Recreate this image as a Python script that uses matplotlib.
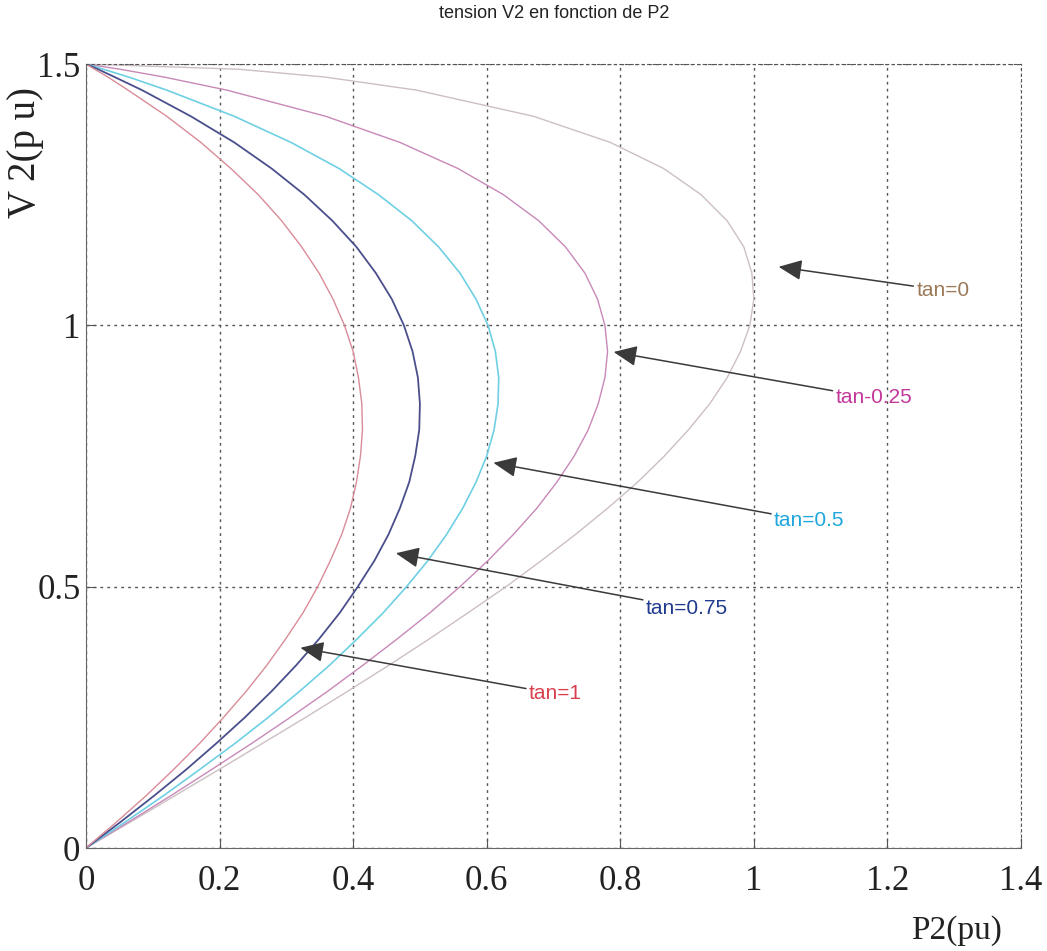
import matplotlib.pyplot as plt

# tension V2 (pu), commune a toutes les courbes
v2 = [0, 0.05, 0.1, 0.15, 0.2, 0.25, 0.3, 0.35, 0.4, 0.45, 0.5, 0.55, 0.6, 0.65,
      0.7, 0.75, 0.8, 0.85, 0.9, 0.95, 1.0, 1.05, 1.1, 1.15, 1.2, 1.25, 1.3,
      1.35, 1.4, 1.45, 1.475, 1.49, 1.5]

# puissance P2 (pu) pour chaque tan(phi)
p_tan0 = [0, 0.067, 0.133, 0.199, 0.264, 0.329, 0.392, 0.454, 0.514, 0.572, 0.629,
          0.682, 0.733, 0.781, 0.826, 0.866, 0.902, 0.934, 0.960, 0.980, 0.994,
          1.000, 0.997, 0.985, 0.960, 0.921, 0.865, 0.785, 0.670, 0.495, 0.358,
          0.229, 0]
p_tan025 = [0, 0.064, 0.127, 0.188, 0.248, 0.306, 0.362, 0.415, 0.466, 0.515, 0.560,
            0.602, 0.640, 0.675, 0.705, 0.731, 0.752, 0.767, 0.777, 0.781, 0.777,
            0.766, 0.747, 0.718, 0.678, 0.625, 0.557, 0.470, 0.359, 0.211, 0.117,
            0.051, 0]
p_tan05 = [0, 0.059, 0.116, 0.170, 0.223, 0.273, 0.320, 0.365, 0.406, 0.445, 0.480,
           0.512, 0.540, 0.564, 0.584, 0.600, 0.611, 0.617, 0.618, 0.613, 0.602,
           0.584, 0.560, 0.528, 0.488, 0.438, 0.379, 0.307, 0.222, 0.121, 0.064,
           0.026, 0]
p_tan075 = [0, 0.052, 0.102, 0.150, 0.195, 0.238, 0.278, 0.315, 0.349, 0.380, 0.407,
            0.432, 0.453, 0.470, 0.484, 0.493, 0.499, 0.500, 0.497, 0.489, 0.476,
            0.458, 0.434, 0.405, 0.369, 0.327, 0.278, 0.222, 0.157, 0.084, 0.043,
            0.018, 0]
p_tan1 = [0, 0.046, 0.090, 0.131, 0.170, 0.206, 0.240, 0.271, 0.299, 0.325, 0.347,
          0.366, 0.383, 0.396, 0.405, 0.411, 0.414, 0.413, 0.408, 0.400, 0.387,
          0.370, 0.349, 0.323, 0.293, 0.258, 0.217, 0.172, 0.121, 0.063, 0.033,
          0.013, 0]

labels = ["tan=0", "tan-0.25", "tan=0.5", "tan=0.75", "tan=1"]
xticks = [0, 0.2, 0.4, 0.6, 0.8, 1, 1.2, 1.4]
yticks = [0, 0.5, 1, 1.5]

curves = [p_tan0, p_tan025, p_tan05, p_tan075, p_tan1]
line_colors = ['#cdbfc4', '#c888b8', '#6fd0e4', '#4a4f8c', '#d98c98']
text_colors = ['#9c7a58', '#c2389a', '#1fa6dc', '#1f3a8e', '#d8404e']
widths = [1.0, 1.0, 1.2, 1.3, 1.0]

narrow = ['Liberation Sans Narrow', 'Liberation Sans', 'DejaVu Sans']
serif = ['Liberation Serif', 'DejaVu Serif']

fig = plt.figure(figsize=(10.47, 9.51), dpi=100)
ax = fig.add_axes([0.0821, 0.1083, 0.8931, 0.8244])

for p, c, w in zip(curves, line_colors, widths):
    ax.plot(p, v2, color=c, lw=w)

ax.set_xlim(0, 1.4)
ax.set_ylim(0, 1.5)
ax.set_xticks(xticks)
ax.set_xticklabels(['0', '0.2', '0.4', '0.6', '0.8', '1', '1.2', '1.4'])
ax.set_yticks(yticks)
ax.set_yticklabels(['0', '0.5', '1', '1.5'])
grid_style = (0, (2, 3))
ax.grid(True, color='#555555', linestyle=grid_style, lw=1)
for s in ['top', 'right']:
    ax.spines[s].set_linestyle(grid_style)
    ax.spines[s].set_color('#555555')
for s in ['left', 'bottom']:
    ax.spines[s].set_color('#666666')
ax.tick_params(direction='in', length=7, color='#555555')
ax.tick_params(axis='x', pad=12)
ax.tick_params(axis='y', pad=4)
for lab in ax.get_xticklabels() + ax.get_yticklabels():
    lab.set_family(serif)
    lab.set_fontsize(25)
    lab.set_color('#222222')

# fleches d'annotation (pointe, texte)
arrows = [((1.037, 1.112), (1.243, 1.067)),
          ((0.790, 0.949), (1.122, 0.861)),
          ((0.610, 0.737), (1.030, 0.626)),
          ((0.464, 0.564), (0.838, 0.459)),
          ((0.321, 0.383), (0.663, 0.295))]
for (tip, txt), lab, tc in zip(arrows, labels, text_colors):
    ax.annotate(lab, xy=tip, xytext=txt, color=tc, fontsize=15, family=narrow,
                va='center', ha='left',
                arrowprops=dict(arrowstyle='-|>,head_length=0.95,head_width=0.42',
                                color='#3a3a3a', lw=1.1, shrinkA=0, shrinkB=0))

fig.text(0.529, 0.986, "tension V2 en fonction de P2", ha='center', va='center',
         fontsize=13, family=narrow, color='#222222')
fig.text(0.024, 0.84, "V 2(p u)", rotation=90, ha='center', va='center',
         fontsize=28, family=serif, color='#222222')
fig.text(0.914, 0.021, "P2(pu)", ha='center', va='center',
         fontsize=24, family=serif, color='#222222')

fig.savefig('out.png', dpi=100)
